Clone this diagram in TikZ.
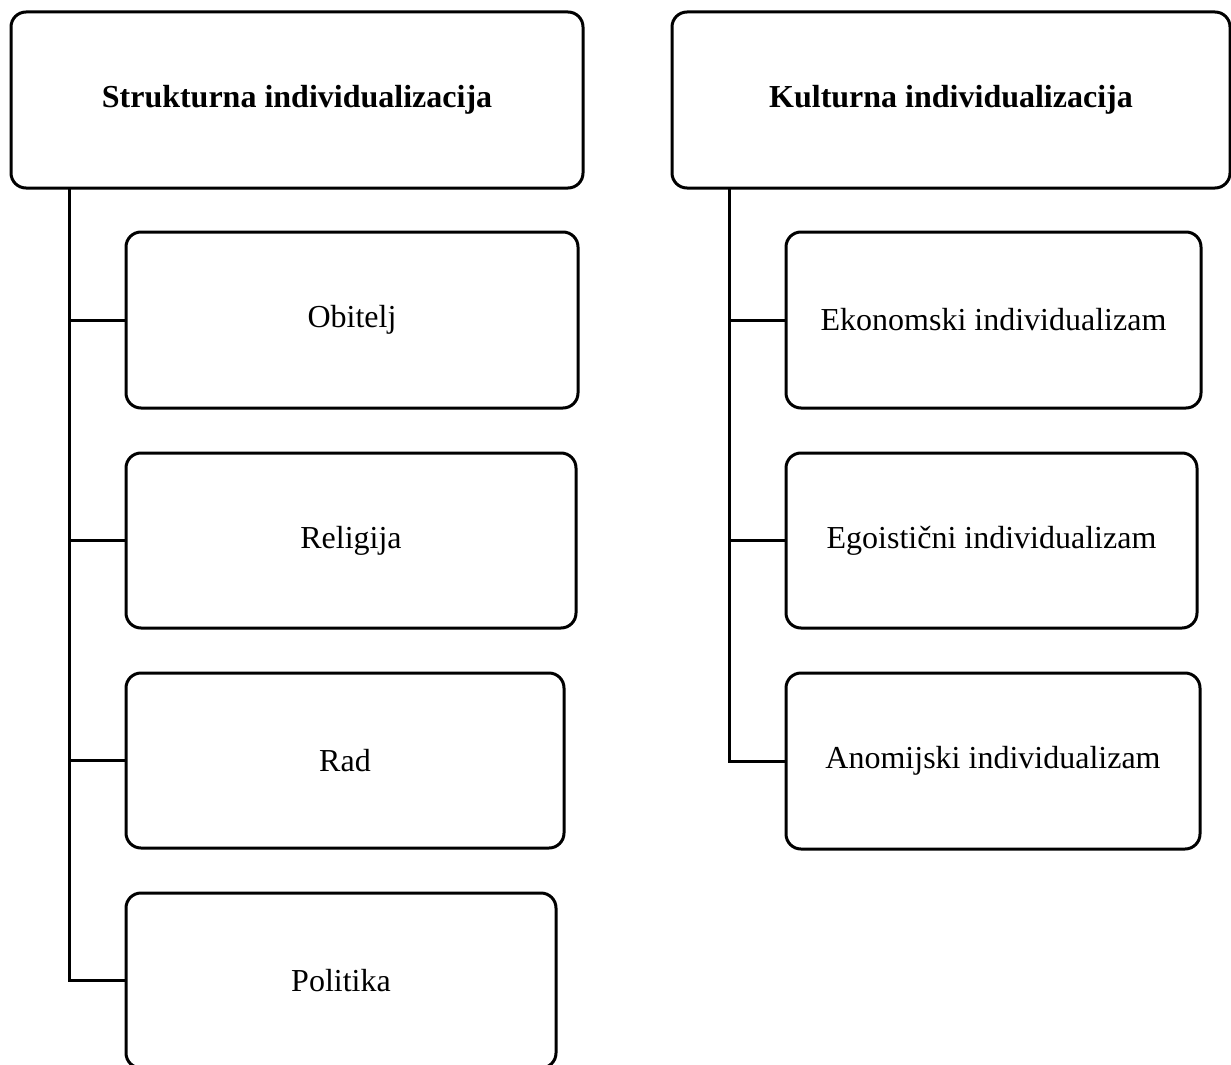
\documentclass[tikz,border=0pt]{standalone}
\usepackage{fontspec}
\setmainfont{Liberation Serif}
\usepackage{tikz}

\begin{document}
\begin{tikzpicture}[x=0.5pt,y=-0.5pt,
		box/.style={draw,rectangle,rounded corners=7.5pt,inner sep=0pt,minimum height=88pt,align=center,font=\fontsize{16pt}{19pt}\selectfont},
		headbox/.style={box,font=\fontsize{16pt}{19pt}\selectfont\bfseries}]
				\useasboundingbox (0,0) rectangle (1231,1065);
				\begin{scope}[line width=1.5pt]

					\node [headbox,minimum width=286pt] (struk) at (297,100) {Strukturna individualizacija};
					\node [headbox,minimum width=279pt] (kult) at (951,100) {Kulturna individualizacija};

					\node [box,minimum width=226pt] (obitelj) at (352,320) {Obitelj};
					\node [box,minimum width=225pt,minimum height=87.5pt] (religija) at (351,540.5) {Religija};
					\node [box,minimum width=219pt,minimum height=87.5pt] (rad) at (345,760.5) {Rad};
					\node [box,minimum width=215pt,minimum height=87.5pt] (politika) at (341,980.5) {Politika};

					\node [box,minimum width=207.5pt] (ekonomski) at (993.5,320) {Ekonomski individualizam};
					\node [box,minimum width=205.5pt,minimum height=87.5pt] (egoisticni) at (991.5,540.5) {Egoistični individualizam};
					\node [box,minimum width=207pt] (anomijski) at (993,761) {Anomijski individualizam};

					\coordinate (lspine) at (69,188);
					\coordinate (rspine) at (729,188);

					\draw (lspine) |- (politika.west);
					\foreach \n in {obitelj,religija,rad}{%
							\draw (lspine |- \n.west) -- (\n.west);
						}

					\draw (rspine) |- (anomijski.west);
					\foreach \n in {ekonomski,egoisticni}{%
							\draw (rspine |- \n.west) -- (\n.west);
						}
				\end{scope}
			\end{tikzpicture}
\end{document}
